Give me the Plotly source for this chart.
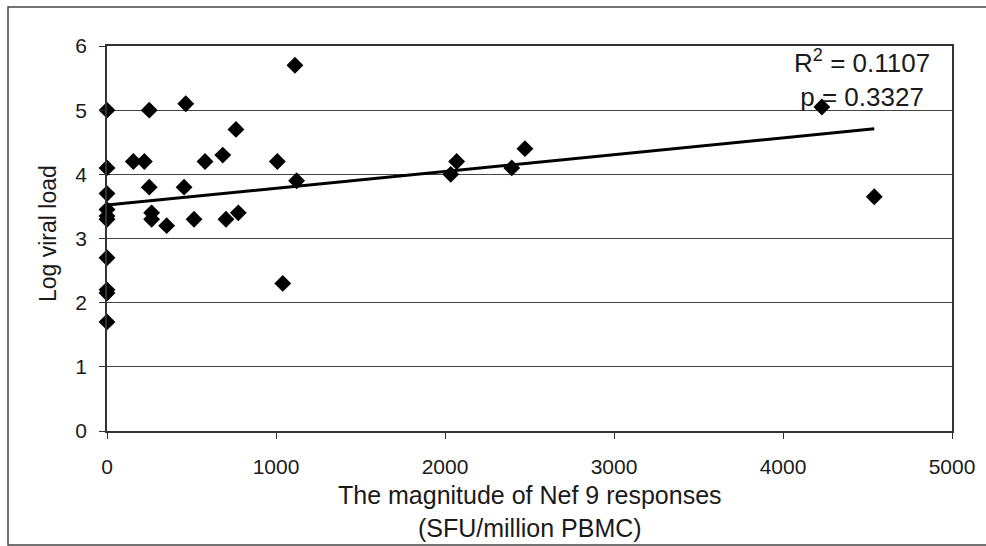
import plotly.graph_objects as go

# Magnitude of Nef 9 responses (SFU/million PBMC)
nef9_sfu = [0, 0, 0, 0, 0, 0, 0, 0, 0, 0,
            156, 221, 250, 250, 264, 264, 353, 466, 456, 515,
            580, 685, 704, 763, 777, 1008, 1112, 1122, 1040,
            2069, 2034, 2395, 2473, 4230, 4540]
# Log viral load
log_vl = [5.0, 4.1, 3.7, 3.45, 3.35, 3.3, 2.7, 2.2, 2.15, 1.7,
          4.2, 4.2, 5.0, 3.8, 3.4, 3.3, 3.2, 5.1, 3.8, 3.3,
          4.2, 4.3, 3.3, 4.7, 3.4, 4.2, 5.7, 3.9, 2.3,
          4.2, 4.0, 4.1, 4.4, 5.05, 3.65]

# linear trendline
trend_intercept = 3.52
trend_slope = 0.000262

x_ticks = [0, 1000, 2000, 3000, 4000, 5000]
y_ticks = [0, 1, 2, 3, 4, 5, 6]
stats_text = "R<sup>2</sup> = 0.1107<br>p = 0.3327"

trend_x = [min(nef9_sfu), max(nef9_sfu)]
trend_y = [trend_intercept + trend_slope * v for v in trend_x]

FONT = "Liberation Sans, Arial, sans-serif"
INK = "#1a1a1a"

fig = go.Figure()
fig.add_trace(go.Scatter(
    x=trend_x, y=trend_y, mode="lines",
    line=dict(color="black", width=3),
    showlegend=False))
fig.add_trace(go.Scatter(
    x=nef9_sfu, y=log_vl, mode="markers",
    marker=dict(symbol="diamond", size=13, color="black"),
    showlegend=False, cliponaxis=False))

# plot area in px: left 107, right 952, top 46, bottom 431
W, H = 986, 546
L, R, T, B = 107, 952, 46, 431
pw, ph = R - L, B - T

def px(xp):
    return (xp - L) / pw

def py(yp):
    return (B - yp) / ph

fig.update_layout(
    width=W, height=H,
    margin=dict(l=L, r=W - R, t=T, b=H - B),
    paper_bgcolor="white", plot_bgcolor="white",
    font=dict(family=FONT, color=INK, size=21),
    xaxis=dict(range=[0, 5000], tickvals=x_ticks, ticks="outside", ticklen=6,
               tickcolor="#333", showgrid=False, zeroline=False,
               showline=True, linecolor="#333", linewidth=1.5, mirror=True,
               tickfont=dict(size=21), ticklabelstandoff=10),
    yaxis=dict(range=[0, 6], tickvals=y_ticks, ticks="outside", ticklen=6,
               tickcolor="#333", showgrid=True, gridcolor="#444", gridwidth=1,
               zeroline=False, showline=True, linecolor="#333", linewidth=1.5,
               mirror=True, tickfont=dict(size=21), ticklabelstandoff=8),
    shapes=[dict(type="rect", xref="paper", yref="paper",
                 x0=px(8), x1=px(995), y0=py(545), y1=py(7),
                 line=dict(color="#444", width=1.5), fillcolor="rgba(0,0,0,0)",
                 layer="below")],
    annotations=[
        dict(text="The magnitude of Nef 9 responses<br>(SFU/million PBMC)",
             xref="paper", yref="paper", x=0.5, y=py(511), xanchor="center",
             yanchor="middle", showarrow=False, font=dict(size=25)),
        dict(text="Log viral load", xref="paper", yref="paper",
             x=px(48), y=py(234), textangle=-90, xanchor="center",
             yanchor="middle", showarrow=False, font=dict(size=23)),
        dict(text=stats_text, xref="paper", yref="paper",
             x=px(862), y=py(78), xanchor="center", yanchor="middle",
             align="center", showarrow=False, font=dict(size=26)),
    ],
)

fig.write_html("out.html")
